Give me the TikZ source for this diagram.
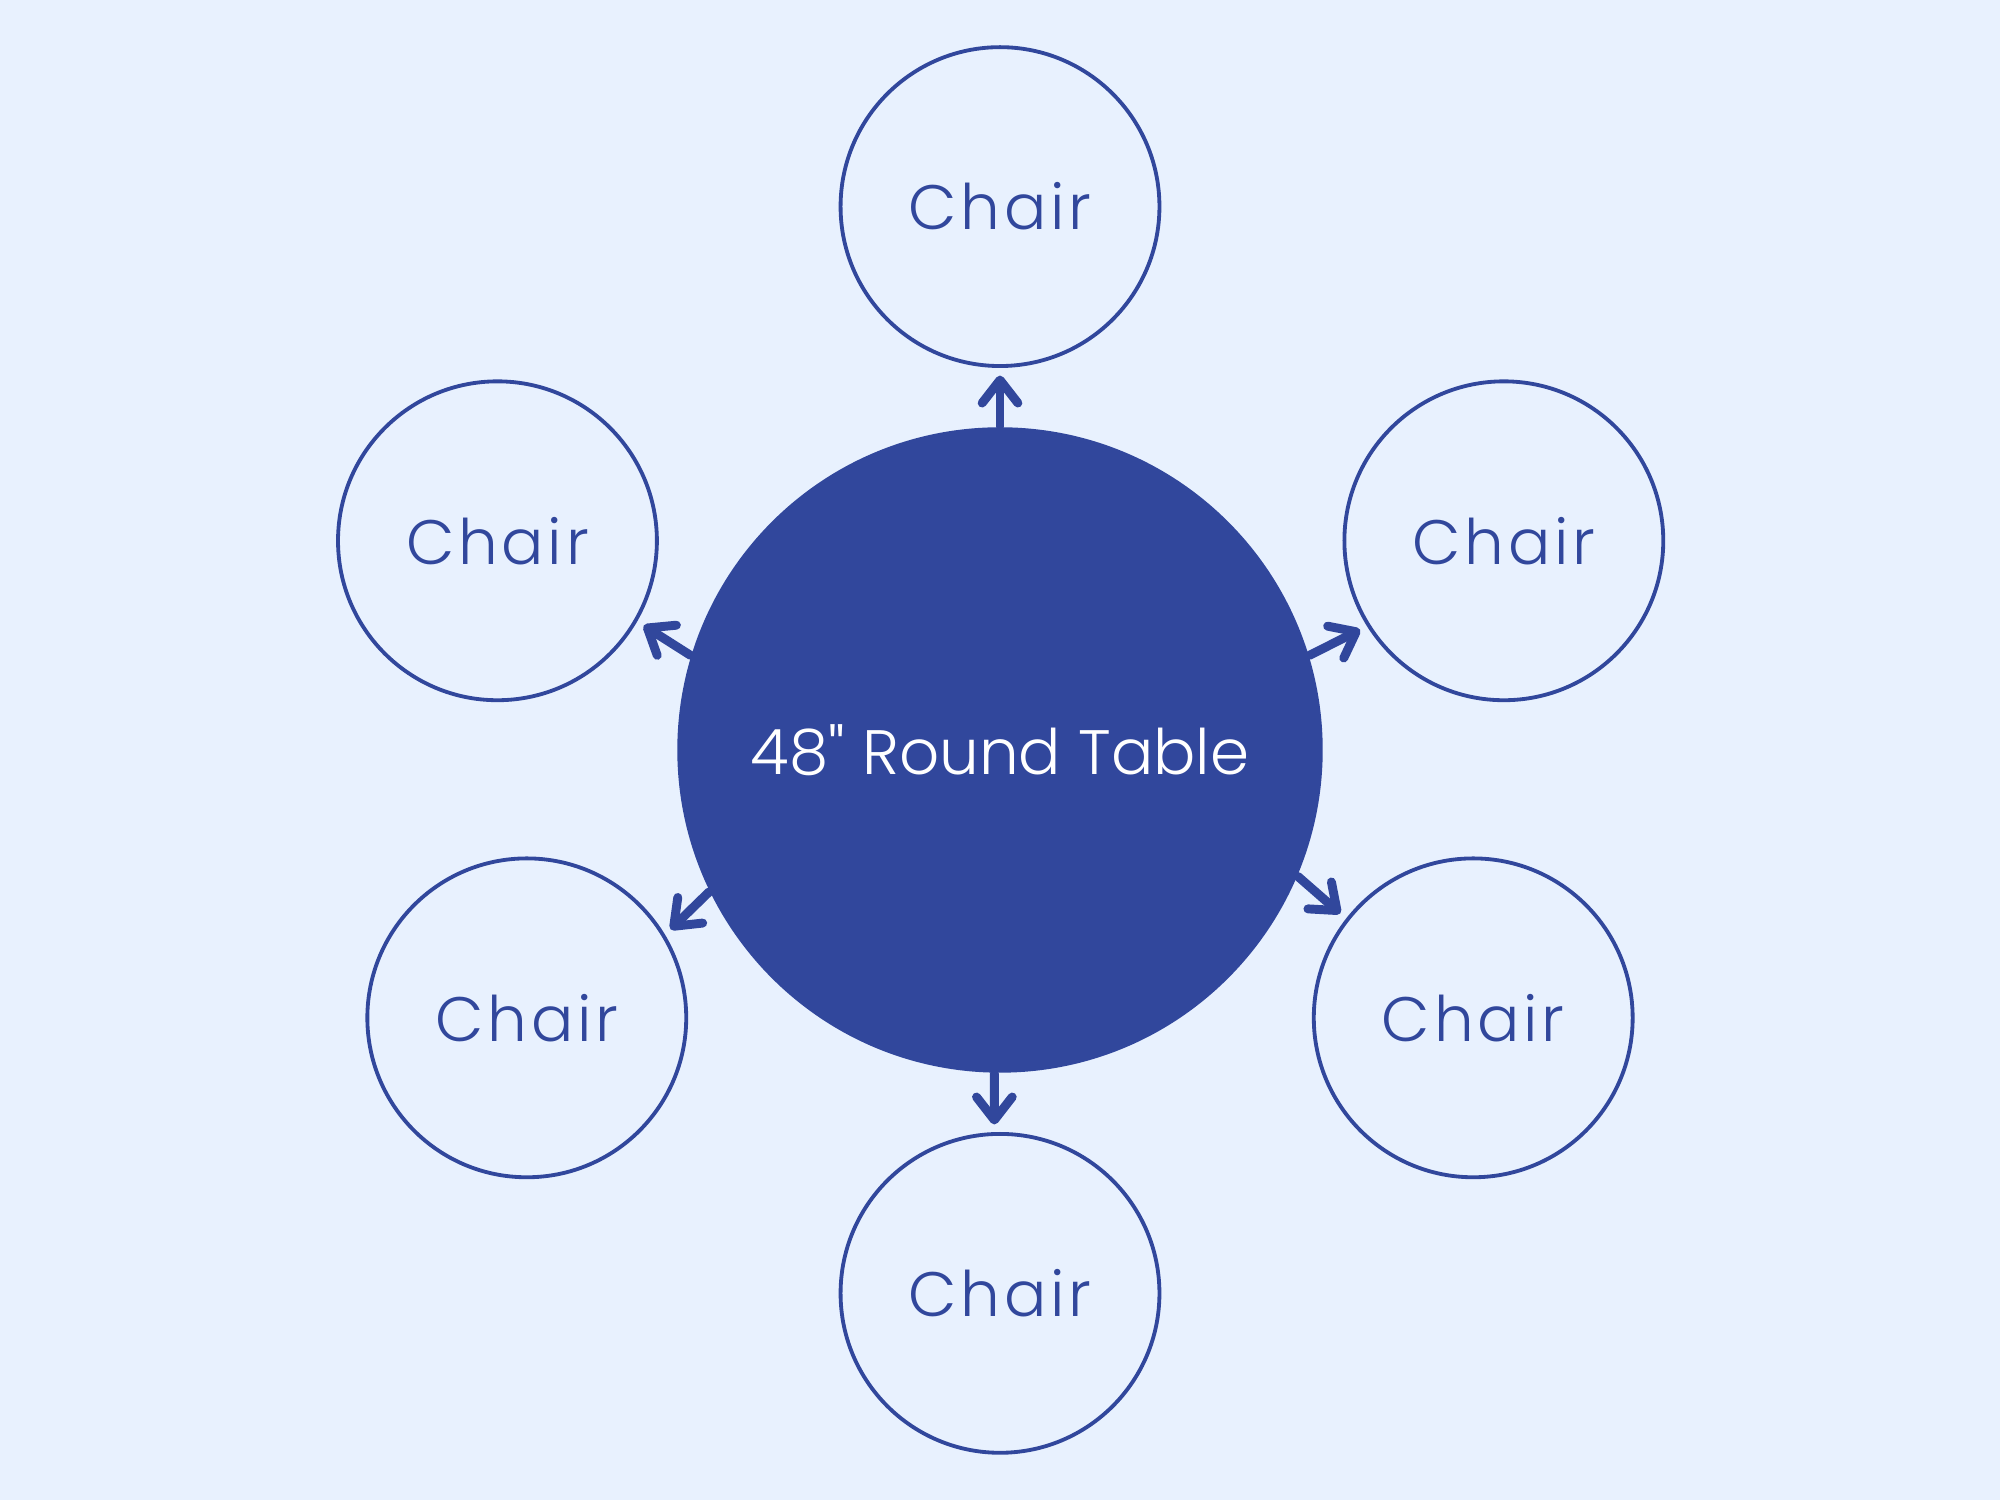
\documentclass[tikz,border=0pt]{standalone}
\usepackage{fontspec}
\setmainfont{Poppins}
\newfontfamily\chairfont{Poppins Light}[LetterSpace=6]
\newfontfamily\tablefont{Poppins Light}[Ligatures=TeXOff]
\usetikzlibrary{arrows.meta}
\definecolor{bgblue}{RGB}{232,241,254}
\definecolor{tableblue}{RGB}{49,71,156}
\begin{document}
\begin{tikzpicture}[
    chair/.style={draw=tableblue, line width=0.03cm, circle, minimum size=2.5cm, inner sep=0pt, text=tableblue, font=\chairfont\fontsize{14}{16}\selectfont},
    tablenode/.style={fill=tableblue, circle, minimum size=5.06cm, inner sep=0pt, text=white, font=\tablefont\fontsize{14}{16}\selectfont},
    link/.style={-{Straight Barb[length=1.8mm, width=2.8mm, round]}, line width=0.07cm, line cap=round, draw=tableblue, shorten >=0.06cm}
]
    % Background
    \fill[bgblue] (0,0) rectangle (15.68,11.76);

    % Table
    \node[tablenode] (table) at (7.84,5.88) {48" Round Table};

    % Chairs
    \node[chair] (top) at (7.84,10.14) {Chair};
    \node[chair] (upleft) at (3.90,7.52) {Chair};
    \node[chair] (upright) at (11.79,7.52) {Chair};
    \node[chair] (lowleft) at (4.13,3.78) {Chair};
    \node[chair] (lowright) at (11.55,3.78) {Chair};
    \node[chair] (bottom) at (7.84,1.62) {Chair};

    % Connections
    \draw[link] (table.90) -- (top.270);
    \draw[link] (table.163) -- (upleft.330);
    \draw[link] (table.17) -- (upright.212);
    \draw[link] (table.206) -- (lowleft.31);
    \draw[link] (table.337) -- (lowright.142);
    \draw[link] (table.269) -- (bottom.92);
\end{tikzpicture}
\end{document}
